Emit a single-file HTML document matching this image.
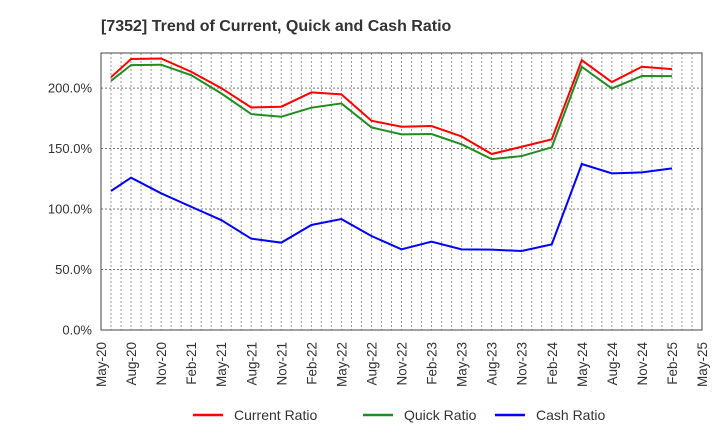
<!DOCTYPE html>
<html><head><meta charset="utf-8">
<style>
body{margin:0;background:#fff;}
svg{display:block;font-family:"Liberation Sans",Arial,sans-serif;}
</style></head>
<body>
<svg id="chart" width="720" height="440" viewBox="0 0 720 440">
<text x="101" y="31" font-size="16" font-weight="bold" fill="#333">[7352]  Trend of Current, Quick and Cash Ratio</text>
<g id="grid"></g>
<g id="yaxis"></g>
<g id="xaxis"></g>
<g id="series"></g>
<rect x="101" y="53" width="601" height="277" fill="none" stroke="#444" stroke-width="1"/>
<g>
<line x1="193" y1="415" x2="223" y2="415" stroke="#f00" stroke-width="2.5"/>
<text x="234" y="420" font-size="14" fill="#333">Current Ratio</text>
<line x1="363" y1="415" x2="393" y2="415" stroke="#228b22" stroke-width="2.5"/>
<text x="404" y="420" font-size="14" fill="#333">Quick Ratio</text>
<line x1="495" y1="415" x2="525" y2="415" stroke="#00f" stroke-width="2.5"/>
<text x="536" y="420" font-size="14" fill="#333">Cash Ratio</text>
</g>
</svg>
<script>
const xLabels = ["May-20","Aug-20","Nov-20","Feb-21","May-21","Aug-21","Nov-21","Feb-22","May-22","Aug-22","Nov-22","Feb-23","May-23","Aug-23","Nov-23","Feb-24","May-24","Aug-24","Nov-24","Feb-25","May-25"];
const pointMonths = [1,3,6,9,12,15,18,21,24,27,30,33,36,39,42,45,48,51,54,57];
const currentRatio = [209,224,224.5,213.5,200,184,184.6,196.4,194.8,173,168,168.6,160,145.5,151.5,157.6,223,205,217.6,215.7];
const quickRatio = [206,219,219.3,210.7,195.6,178.5,176.3,183.8,187.3,167.5,161.7,162,153.5,141.3,143.8,151,217.6,199.7,210,209.9];
const cashRatio = [114.9,125.9,113,101.9,90.9,75.5,72.2,86.8,91.7,77.7,66.7,73,66.7,66.4,65.3,70.8,137.2,129.5,130.3,133.6];
const yTicks = [0,50,100,150,200];

const L=101,R=702,T=53,B=330,YMAX=229;
const NS="http://www.w3.org/2000/svg";
function xs(m){return L+m*(R-L)/60;}
function ys(v){return B-v*(B-T)/YMAX;}
function mk(tag,attrs,parent){const e=document.createElementNS(NS,tag);for(const k in attrs)e.setAttribute(k,attrs[k]);parent.appendChild(e);return e;}
const grid=document.getElementById('grid'),yax=document.getElementById('yaxis'),xax=document.getElementById('xaxis'),ser=document.getElementById('series');
for(let m=1;m<60;m++){
  const l=mk('line',{x1:xs(m),x2:xs(m),y1:T,y2:B,stroke:'#999','stroke-dasharray':'2,2','stroke-width':1},grid);
  
  
}
yTicks.forEach(v=>{
  if(v>0){const g=mk('line',{x1:L,x2:R,y1:ys(v),y2:ys(v),stroke:'#777','stroke-dasharray':'2,2','stroke-width':1},grid);
  
  }
  const t=mk('text',{x:92,y:ys(v)+4.5,'text-anchor':'end','font-size':13,fill:'#333'},yax);
  
  
  t.textContent=v.toFixed(1)+'%';
});
xLabels.forEach((s,i)=>{
  const x=xs(i*3);
  const t=mk('text',{x:0,y:0,transform:`translate(${x+5},342) rotate(-90)`,'text-anchor':'end','font-size':13.5,fill:'#333'},xax);
  
  
  t.textContent=s;
});
[[currentRatio,'#f00','current-ratio-line'],[quickRatio,'#228b22','quick-ratio-line'],[cashRatio,'#00f','cash-ratio-line']].forEach(([d,c,n])=>{
  const p=mk('polyline',{points:d.map((v,i)=>xs(pointMonths[i])+','+ys(v)).join(' '),fill:'none',stroke:c,'stroke-width':2},ser);
  
  
});
</script>
</body></html>
